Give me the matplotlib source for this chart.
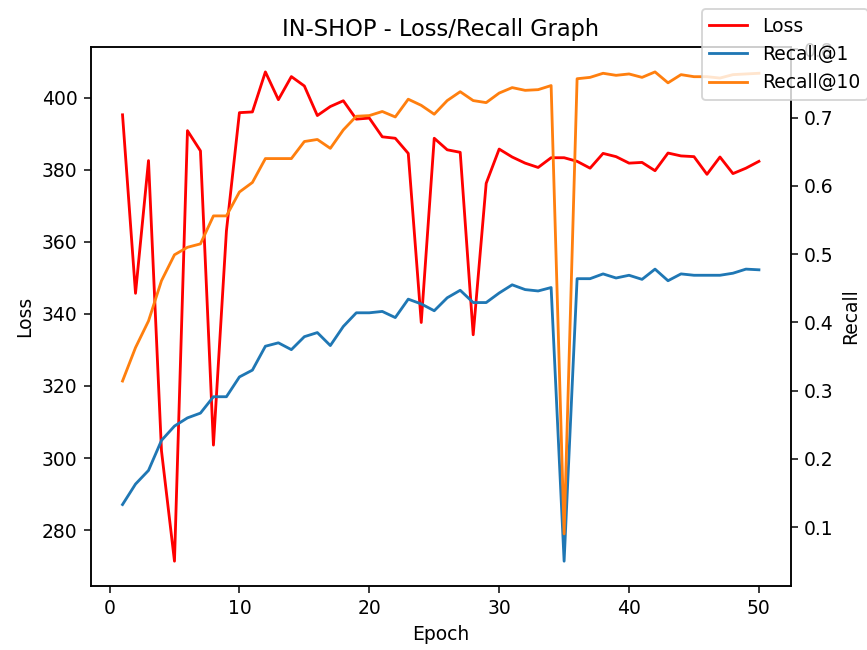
import numpy as np
import matplotlib
matplotlib.use("Agg")
import matplotlib.pyplot as plt

# valores
epochs = np.arange(1, 51)

loss = [395.2, 345.7, 382.5, 302.0, 271.4, 390.8, 385.2, 303.6, 363.0, 395.8,
        396.0, 407.1, 399.4, 405.8, 403.2, 395.0, 397.5, 399.1, 394.0, 394.3,
        389.1, 388.7, 384.5, 337.6, 388.7, 385.5, 384.8, 334.2, 376.2, 385.7,
        383.5, 381.8, 380.6, 383.3, 383.3, 382.3, 380.4, 384.5, 383.6, 381.8,
        382.0, 379.7, 384.6, 383.8, 383.6, 378.7, 383.5, 378.9, 380.4, 382.3]

recall_1 = [0.133, 0.163, 0.183, 0.227, 0.248, 0.260, 0.267, 0.291, 0.291, 0.320,
            0.330, 0.365, 0.370, 0.360, 0.379, 0.385, 0.366, 0.394, 0.414, 0.414,
            0.416, 0.407, 0.434, 0.427, 0.417, 0.436, 0.447, 0.429, 0.429, 0.443,
            0.455, 0.448, 0.446, 0.451, 0.050, 0.464, 0.464, 0.471, 0.465, 0.469,
            0.463, 0.478, 0.461, 0.471, 0.469, 0.469, 0.469, 0.472, 0.478, 0.477]

recall_10 = [0.314, 0.363, 0.402, 0.461, 0.499, 0.510, 0.515, 0.556, 0.556, 0.591,
             0.605, 0.640, 0.640, 0.640, 0.665, 0.668, 0.655, 0.682, 0.702, 0.703,
             0.709, 0.701, 0.727, 0.718, 0.705, 0.725, 0.738, 0.725, 0.722, 0.736,
             0.744, 0.740, 0.741, 0.747, 0.090, 0.757, 0.759, 0.765, 0.762, 0.764,
             0.759, 0.767, 0.751, 0.763, 0.760, 0.760, 0.758, 0.763, 0.764, 0.765]

fig, ax1 = plt.subplots(figsize=(8.68 / 1.35, 6.5 / 1.35), dpi=135)
fig.subplots_adjust(left=0.1045, right=0.911, bottom=0.099, top=0.927)

ax1.plot(epochs, loss, color='red', label='Loss')
ax1.set_xlabel('Epoch')
ax1.set_ylabel('Loss')

ax2 = ax1.twinx()
ax2.plot(epochs, recall_1, color='tab:blue', label='Recall@1')
ax2.plot(epochs, recall_10, color='tab:orange', label='Recall@10')
ax2.set_ylabel('Recall')

ax1.set_title('IN-SHOP - Loss/Recall Graph')
fig.legend(loc='upper left', bbox_to_anchor=(702 / 868, 1 - 9 / 650), borderaxespad=0)

fig.savefig('out.png', dpi=135)
